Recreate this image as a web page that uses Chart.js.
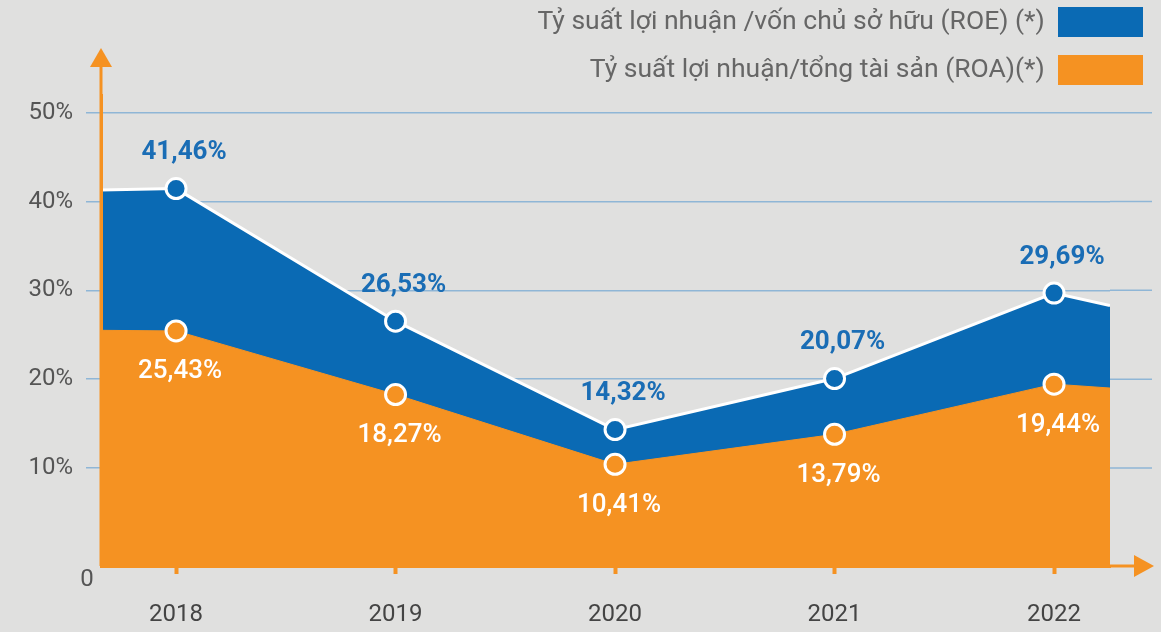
<!DOCTYPE html>
<html>
<head>
<meta charset="utf-8">
<script src="https://cdn.jsdelivr.net/npm/chart.js@4"></script>
<style>
  html, body { margin: 0; padding: 0; background: #e0e0df; }
  canvas { display: block; }
</style>
</head>
<body>
<canvas id="roeChart" width="1161" height="632"></canvas>
<script>
const years = [2018, 2019, 2020, 2021, 2022];
const roe = [41.46, 26.53, 14.32, 20.07, 29.69];
const roa = [25.43, 18.27, 10.41, 13.79, 19.44];
// values where the filled areas stop, left and right of the points
const roeEnds = [41.3, 28.3];
const roaEnds = [25.5, 19.0];
const yTicks = [0, 10, 20, 30, 40, 50];
const roeName = 'Tỷ suất lợi nhuận /vốn chủ sở hữu (ROE) (*)';
const roaName = 'Tỷ suất lợi nhuận/tổng tài sản (ROA)(*)';

const BLUE = '#0a6ab4';
const ORANGE = '#f59222';
const GRID = '#8fb6d6';
const X_MIN = 2017.658;
const X_MAX = 2022.255;

Chart.defaults.font.family = 'Roboto';

function seriesPoints(values, ends) {
    return [
        { x: X_MIN, y: ends[0] },
        ...years.map((yr, i) => ({ x: yr, y: values[i] })),
        { x: X_MAX, y: ends[1] },
    ];
}

function fmt(v) {
    return v.toFixed(2).replace('.', ',') + '%';
}

const radii = [0, ...years.map(() => 10), 0];

const decorations = {
    id: 'decorations',
    beforeDatasetsDraw(chart) {
        const { ctx, chartArea, scales } = chart;
        ctx.save();
        ctx.strokeStyle = GRID;
        ctx.lineWidth = 1.5;
        yTicks.filter(v => v > 0).forEach(v => {
            const y = scales.y.getPixelForValue(v);
            ctx.beginPath();
            ctx.moveTo(chartArea.right, y);
            ctx.lineTo(1152, y);
            ctx.stroke();
        });
        ctx.restore();
    },
    afterDatasetsDraw(chart) {
        const { ctx } = chart;
        ctx.save();
        ctx.textAlign = 'center';
        ctx.textBaseline = 'middle';
        // ROE labels above (dataset 1), ROA labels below (dataset 0)
        chart.getDatasetMeta(1).data.slice(1, -1).forEach((pt, i) => {
            ctx.font = 'bold 26px Roboto';
            ctx.fillStyle = '#1a6db5';
            ctx.fillText(fmt(roe[i]), pt.x + 8, pt.y - 36);
        });
        chart.getDatasetMeta(0).data.slice(1, -1).forEach((pt, i) => {
            ctx.font = '500 26px Roboto';
            ctx.fillStyle = '#ffffff';
            ctx.fillText(fmt(roa[i]), pt.x + 4, pt.y + 41);
        });
        ctx.restore();
    },
    afterDraw(chart) {
        const { ctx, chartArea } = chart;
        const left = chartArea.left;
        const bottom = chartArea.bottom;
        ctx.save();
        ctx.strokeStyle = ORANGE;
        ctx.fillStyle = ORANGE;
        ctx.lineWidth = 3;
        // y axis arrow
        ctx.beginPath();
        ctx.moveTo(left, bottom);
        ctx.lineTo(left, 62);
        ctx.stroke();
        ctx.beginPath();
        ctx.moveTo(left, 48);
        ctx.lineTo(left - 11, 67);
        ctx.lineTo(left + 11, 67);
        ctx.closePath();
        ctx.fill();
        // x axis arrow
        ctx.beginPath();
        ctx.moveTo(left, bottom);
        ctx.lineTo(1140, bottom);
        ctx.stroke();
        ctx.beginPath();
        ctx.moveTo(1154, bottom);
        ctx.lineTo(1134, bottom - 11);
        ctx.lineTo(1134, bottom + 11);
        ctx.closePath();
        ctx.fill();
        // zero label sits under the axis
        ctx.font = '24px Roboto';
        ctx.fillStyle = '#555555';
        ctx.textAlign = 'center';
        ctx.textBaseline = 'middle';
        ctx.fillText('0', 87, bottom + 14);
        ctx.restore();
    },
};

new Chart(document.getElementById('roeChart'), {
    type: 'line',
    data: {
        datasets: [
            {
                label: roaName,
                data: seriesPoints(roa, roaEnds),
                backgroundColor: ORANGE,
                borderColor: ORANGE,
                borderWidth: 1,
                fill: 'start',
                pointRadius: radii,
                pointHoverRadius: radii,
                pointBackgroundColor: ORANGE,
                pointBorderColor: '#ffffff',
                pointBorderWidth: 3,
            },
            {
                label: roeName,
                data: seriesPoints(roe, roeEnds),
                backgroundColor: BLUE,
                borderColor: '#ffffff',
                borderWidth: 3,
                fill: 'start',
                pointRadius: radii,
                pointHoverRadius: radii,
                pointBackgroundColor: BLUE,
                pointBorderColor: '#ffffff',
                pointBorderWidth: 3,
            },
        ],
    },
    options: {
        responsive: false,
        animation: false,
        layout: {
            padding: { top: -11, left: 29, right: 0, bottom: 7 },
        },
        elements: { line: { tension: 0 } },
        plugins: {
            tooltip: { enabled: false },
            legend: {
                position: 'top',
                align: 'start',
                rtl: true,
                reverse: true,
                maxHeight: 108,
                labels: {
                    boxWidth: 85,
                    boxHeight: 30,
                    padding: 18,
                    color: '#666666',
                    font: { size: 26.5 },
                    generateLabels(chart) {
                        return Chart.defaults.plugins.legend.labels.generateLabels(chart)
                            .map(l => ({ ...l, lineWidth: 0, strokeStyle: l.fillStyle }));
                    },
                },
            },
        },
        scales: {
            x: {
                type: 'linear',
                min: X_MIN,
                max: X_MAX,
                afterBuildTicks(scale) {
                    scale.ticks = years.map(v => ({ value: v }));
                },
                afterFit(scale) {
                    scale.height = 59;
                },
                ticks: {
                    callback: v => String(v),
                    color: '#444444',
                    font: { size: 24 },
                    padding: 27,
                    maxRotation: 0,
                },
                grid: {
                    drawOnChartArea: false,
                    drawTicks: true,
                    tickLength: 8,
                    tickWidth: 4,
                    tickColor: ORANGE,
                },
                border: { color: ORANGE, width: 3, z: 1 },
            },
            y: {
                min: -1.04,
                max: 52,
                afterBuildTicks(scale) {
                    scale.ticks = yTicks.map(v => ({ value: v }));
                },
                afterFit(scale) {
                    scale.width = 72;
                },
                ticks: {
                    callback: v => (v === 0 ? '' : v + '%'),
                    color: '#555555',
                    font: { size: 24 },
                    padding: 13,
                },
                grid: {
                    color: ctx => (ctx.tick && ctx.tick.value === 0 ? 'rgba(0,0,0,0)' : GRID),
                    lineWidth: 1.5,
                    tickLength: 15,
                },
                border: { color: ORANGE, width: 3, z: 1 },
            },
            // empty right-hand axis, only reserves room for the x arrow
            spacer: {
                type: 'linear',
                position: 'right',
                grid: { display: false },
                ticks: { display: false },
                border: { display: false },
                afterFit(scale) {
                    scale.width = 51;
                },
            },
        },
    },
    plugins: [decorations],
});
</script>
</body>
</html>
